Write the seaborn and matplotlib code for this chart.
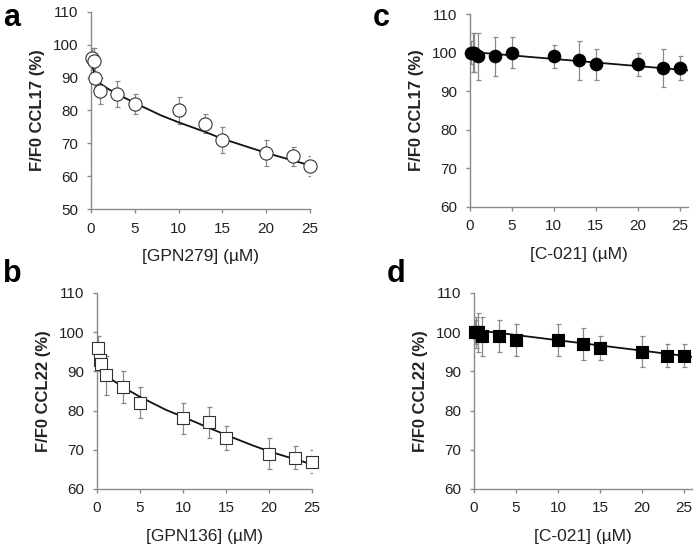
import matplotlib
matplotlib.use("Agg")
import matplotlib.pyplot as plt
import seaborn as sns
import pandas as pd

sns.set_theme(style="white")
plt.rcParams['font.family'] = ['Liberation Sans', 'DejaVu Sans']

# ---- data ----
conc = [0.1, 0.3, 0.5, 1, 3, 5, 10, 13, 15, 20, 23, 25]

a_vals = [96, 95, 90, 86, 85, 82, 80, 76, 71, 67, 66, 63]
a_err = [3, 4, 4, 4, 4, 3, 4, 3, 4, 4, 3, 3]
a_fit_x = [0, 0.3, 0.6, 1, 2, 3, 5, 8, 10, 13, 15, 18, 20, 23, 25]
a_fit_y = [96, 92, 89.5, 88.3, 86.5, 85, 82.3, 78.5, 76.4, 73.5, 71.4, 68.8, 67.1, 64.8, 63.3]

b_vals = [96, 93, 92, 89, 86, 82, 78, 77, 73, 69, 68, 67]
b_err = [3, 3, 2, 5, 4, 4, 4, 4, 3, 4, 3, 3]
b_fit_x = [0, 0.3, 0.6, 1, 2, 3, 5, 8, 10, 13, 15, 18, 20, 23, 25]
b_fit_y = [95.5, 92, 90, 89, 87.5, 86, 83.5, 80.2, 78.4, 75.6, 73.8, 71.2, 69.6, 67.6, 66.3]

c_vals = [100, 100, 100, 99, 99, 100, 99, 98, 97, 97, 96, 96]
c_err = [3, 5, 5, 6, 5, 4, 3, 5, 4, 3, 5, 3]
c_fit_x = [0, 26]
c_fit_y = [100.2, 95.4]

d_vals = [100, 100, 100, 99, 99, 98, 98, 97, 96, 95, 94, 94]
d_err = [3, 4, 5, 5, 4, 4, 4, 4, 3, 4, 3, 3]
d_fit_x = [0, 26]
d_fit_y = [100.6, 93.7]

y_ticks_a = [50, 60, 70, 80, 90, 100, 110]
y_ticks_other = [60, 70, 80, 90, 100, 110]
x_ticks = [0, 5, 10, 15, 20, 25]

fig = plt.figure(figsize=(6.97, 5.45), dpi=100)

panels = [
    dict(pos=[0.1306, 0.6165, 0.3142, 0.3615], vals=a_vals, err=a_err, fx=a_fit_x, fy=a_fit_y,
         marker='o', face='white', ms=9.5, ylim=(50, 110), yt=y_ticks_a, xlim=(0, 25),
         ylabel='F/F0 CCL17 (%)', xlabel='[GPN279] (µM)', letter='a', lxy=(0.005, 0.995)),
    dict(pos=[0.1392, 0.1028, 0.3084, 0.3596], vals=b_vals, err=b_err, fx=b_fit_x, fy=b_fit_y,
         marker='s', face='white', ms=9, ylim=(60, 110), yt=y_ticks_other, xlim=(0, 25),
         ylabel='F/F0 CCL22 (%)', xlabel='[GPN136] (µM)', letter='b', lxy=(0.005, 0.525)),
    dict(pos=[0.6743, 0.6202, 0.3128, 0.3541], vals=c_vals, err=c_err, fx=c_fit_x, fy=c_fit_y,
         marker='o', face='black', ms=9, ylim=(60, 110), yt=y_ticks_other, xlim=(0, 26),
         ylabel='F/F0 CCL17 (%)', xlabel='[C-021] (µM)', letter='c', lxy=(0.535, 0.995)),
    dict(pos=[0.6800, 0.1028, 0.3134, 0.3596], vals=d_vals, err=d_err, fx=d_fit_x, fy=d_fit_y,
         marker='s', face='black', ms=9, ylim=(60, 110), yt=y_ticks_other, xlim=(0, 26),
         ylabel='F/F0 CCL22 (%)', xlabel='[C-021] (µM)', letter='d', lxy=(0.555, 0.525)),
]

grey = '#8a8a8a'
for p in panels:
    ax = fig.add_axes(p['pos'])
    df = pd.DataFrame({'x': conc, 'y': p['vals']})
    fit = pd.DataFrame({'x': p['fx'], 'y': p['fy']})
    ax.errorbar(conc, p['vals'], yerr=p['err'], fmt='none', ecolor=grey, elinewidth=0.9,
                capsize=1.8, capthick=0.9, zorder=2)
    sns.lineplot(data=fit, x='x', y='y', ax=ax, color='#111111', linewidth=1.3, zorder=3)
    sns.scatterplot(data=df, x='x', y='y', ax=ax, marker=p['marker'], s=p['ms'] ** 2,
                    facecolor=p['face'], edgecolor='#333333' if p['face'] == 'white' else 'black',
                    linewidth=0.8, zorder=4, clip_on=False)
    ax.set_xlim(*p['xlim'])
    ax.set_ylim(*p['ylim'])
    ax.set_xticks(x_ticks)
    ax.set_yticks(p['yt'])
    for s in ['top', 'right']:
        ax.spines[s].set_visible(False)
    for s in ['left', 'bottom']:
        ax.spines[s].set_color(grey)
        ax.spines[s].set_linewidth(1.0)
    ax.tick_params(axis='both', direction='out', length=3, width=1.0, color=grey,
                   labelsize=11, labelcolor='#222222', pad=6, bottom=True, left=True)
    ax.set_ylabel(p['ylabel'], fontsize=12, fontweight='bold', color='#222222', labelpad=6)
    ax.set_xlabel(p['xlabel'], fontsize=12.5, color='#222222', labelpad=10)
    fig.text(p['lxy'][0], p['lxy'][1], p['letter'], fontsize=22, fontweight='bold',
             ha='left', va='top', color='black')

fig.savefig('out.png', dpi=100)
